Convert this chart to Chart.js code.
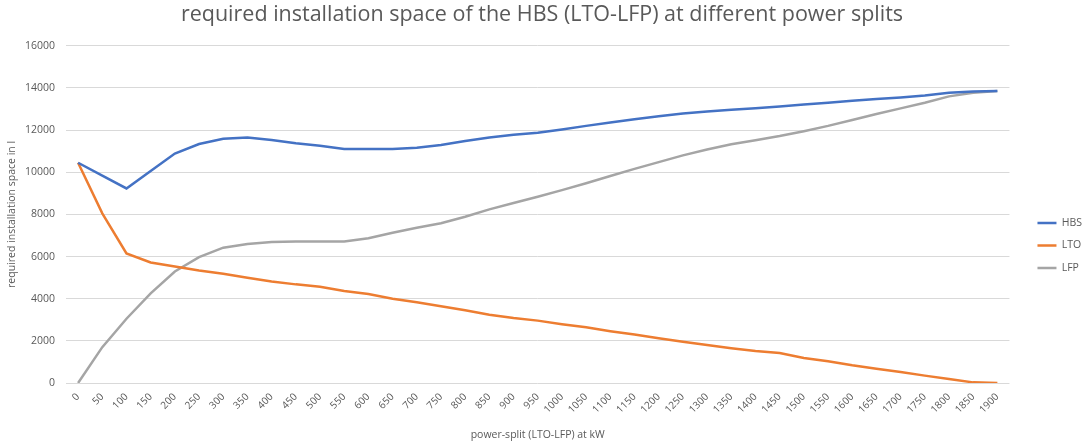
<!DOCTYPE html>
<html>
<head>
<meta charset="utf-8">
<script src="https://cdn.jsdelivr.net/npm/chart.js@4/dist/chart.umd.min.js"></script>
<style>
  html, body { margin: 0; padding: 0; background: #ffffff; }
  #wrap { width: 1084px; height: 443px; position: relative; }
</style>
</head>
<body>
<div id="wrap"><canvas id="c" width="1084" height="443"></canvas></div>
<script>
const categories = ["0","50","100","150","200","250","300","350","400","450","500","550","600","650","700","750","800","850","900","950","1000","1050","1100","1150","1200","1250","1300","1350","1400","1450","1500","1550","1600","1650","1700","1750","1800","1850","1900"];

const hbsValues = [10450, 9840, 9230, 10060, 10890, 11340, 11590, 11650, 11530, 11380, 11260, 11100, 11100, 11100, 11160, 11290, 11480, 11650, 11780, 11870, 12030, 12200, 12360, 12520, 12660, 12790, 12880, 12970, 13040, 13120, 13210, 13300, 13390, 13470, 13550, 13640, 13770, 13830, 13860];

const ltoValues = [10450, 8050, 6150, 5720, 5530, 5340, 5180, 4990, 4820, 4680, 4570, 4370, 4220, 4000, 3830, 3640, 3450, 3240, 3080, 2960, 2790, 2640, 2460, 2300, 2120, 1960, 1800, 1650, 1520, 1420, 1190, 1030, 840, 680, 520, 350, 190, 30, 0];

const lfpValues = [0, 1700, 3050, 4250, 5290, 5970, 6420, 6600, 6690, 6720, 6720, 6720, 6870, 7130, 7370, 7580, 7890, 8240, 8540, 8840, 9150, 9480, 9820, 10160, 10480, 10800, 11080, 11330, 11520, 11720, 11950, 12200, 12480, 12760, 13030, 13300, 13600, 13770, 13860];

const seriesNames = ["HBS", "LTO", "LFP"];
const yTicks = [0, 2000, 4000, 6000, 8000, 10000, 12000, 14000, 16000];

const titleText = "required installation space of the HBS (LTO-LFP) at different power splits";
const xTitle = "power-split (LTO-LFP) at kW";
const yTitle = "required installation space in l";

const FONT = "'Open Sans', 'Liberation Sans', sans-serif";
const TXT = "#595959";

const LEGEND_FIT_EXTRA = 8;
const LEGEND_SHIFT_X = 16;
const LEGEND_DY = 25;

const legendPlacement = {
  id: "legendPlacement",
  afterInit(chart) {
    const lg = chart.legend;
    if (!lg) return;
    const orig = lg.fit;
    lg.fit = function () { orig.call(this); this.width += LEGEND_FIT_EXTRA; };
  },
  afterLayout(chart) {
    const lg = chart.legend;
    if (!lg) return;
    lg.left += LEGEND_SHIFT_X;
    lg.top += LEGEND_DY;
    lg.bottom += LEGEND_DY;
  }
};

new Chart(document.getElementById("c"), {
  type: "line",
  data: {
    labels: categories,
    datasets: [
      { label: seriesNames[0], data: hbsValues, borderColor: "#4472C4", backgroundColor: "#4472C4", borderWidth: 2.5, pointRadius: 0, tension: 0 },
      { label: seriesNames[1], data: ltoValues, borderColor: "#ED7D31", backgroundColor: "#ED7D31", borderWidth: 2.5, pointRadius: 0, tension: 0 },
      { label: seriesNames[2], data: lfpValues, borderColor: "#A5A5A5", backgroundColor: "#A5A5A5", borderWidth: 2.5, pointRadius: 0, tension: 0 }
    ]
  },
  plugins: [legendPlacement],
  options: {
    responsive: false,
    animation: false,
    layout: { padding: { left: 0, right: 0, top: 0, bottom: 2 } },
    plugins: {
      title: {
        display: true,
        text: titleText,
        color: TXT,
        font: { family: FONT, size: 21.5, weight: "normal" },
        padding: { top: 2, bottom: 18 }
      },
      legend: {
        position: "right",
        labels: {
          usePointStyle: true,
          pointStyle: "line",
          pointStyleWidth: 19,
          boxHeight: 10,
          color: TXT,
          font: { family: FONT, size: 10.5 },
          padding: 12
        }
      },
      tooltip: { enabled: false }
    },
    scales: {
      x: {
        offset: true,
        afterFit: (scale) => { scale.height = 58; },
        grid: { display: false, drawTicks: false },
        border: { display: false },
        ticks: { color: TXT, font: { family: FONT, size: 10 }, maxRotation: 45, minRotation: 45, autoSkip: false, padding: 8 },
        title: { display: true, text: xTitle, color: TXT, font: { family: FONT, size: 10.5 }, padding: { top: 6, bottom: 0 } }
      },
      y: {
        min: 0,
        max: 16000,
        afterBuildTicks: (axis) => { axis.ticks = yTicks.map(v => ({ value: v })); },
        afterFit: (scale) => { scale.width = 66; },
        grid: { color: "#d9d9d9", lineWidth: 1, drawTicks: false },
        border: { display: false },
        ticks: { color: TXT, font: { family: FONT, size: 10.5 }, padding: 11, callback: (v) => String(v) },
        title: { display: true, text: yTitle, color: TXT, font: { family: FONT, size: 10.5 }, padding: { top: 5.5, bottom: 0 } }
      }
    }
  }
});
</script>
</body>
</html>
